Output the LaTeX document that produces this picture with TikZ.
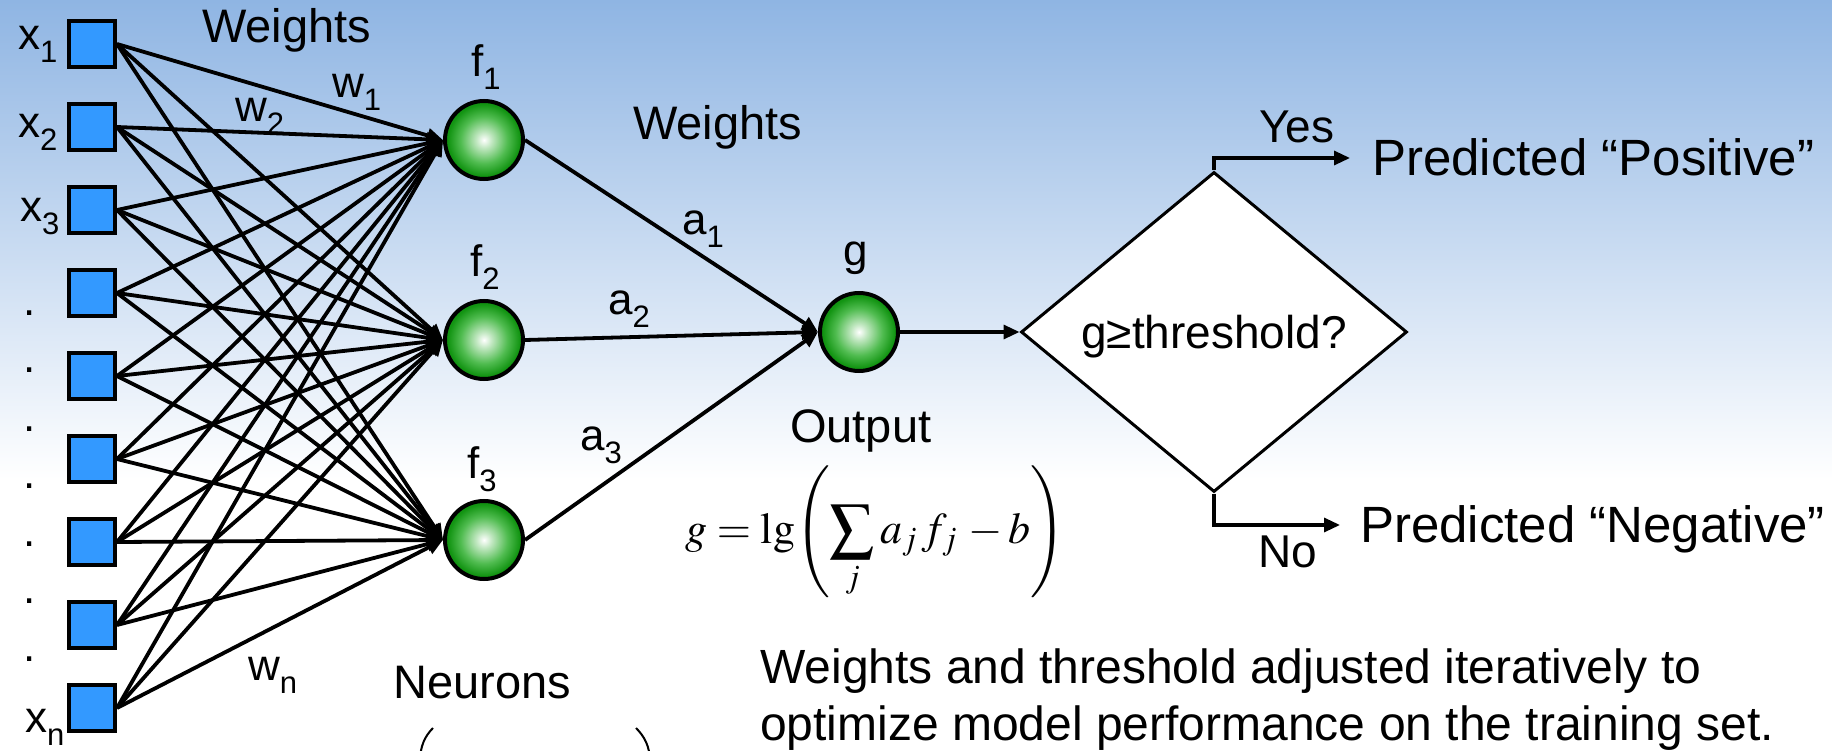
\documentclass[tikz,border=0pt]{standalone}
\usepackage{mathptmx}
\usepackage[no-math]{fontspec}
\setmainfont{Liberation Sans}
\usetikzlibrary{arrows.meta,shapes.geometric}
\definecolor{bgtop}{RGB}{143,181,227}
\definecolor{sqblue}{RGB}{51,153,255}
\definecolor{gA}{RGB}{80,188,80}
\definecolor{gB}{RGB}{18,148,18}
\pgfdeclareradialshading{greenball}{\pgfpoint{0bp}{0bp}}{color(0bp)=(white); color(5bp)=(white!65!gA); color(15bp)=(gA); color(23bp)=(gB); color(25bp)=(gB); color(50bp)=(gB)}
\newcommand{\sbs}[1]{\raisebox{-13pt}{\fontsize{31}{31}\selectfont #1}}
\begin{document}
\begin{tikzpicture}[x=1pt,y=-1pt,
  inbox/.style={draw=black, line width=4pt, fill=sqblue, minimum size=46pt, inner sep=0pt},
  neuron/.style={circle, draw=black, line width=4pt, shade, shading=greenball, minimum size=78pt, inner sep=0pt},
  lbl/.style={anchor=base west, inner sep=0pt, font=\fontsize{44}{44}\selectfont},
  bigtxt/.style={anchor=base west, inner sep=0pt, font=\fontsize{47}{47}\selectfont},
  predtxt/.style={anchor=base west, inner sep=0pt, font=\fontsize{51}{51}\selectfont},
  conn/.style={draw=black, line width=3.8pt, -{Triangle[length=16pt,width=14pt]}},
  arrtwo/.style={draw=black, line width=3.2pt, -{Triangle[length=16pt,width=14pt]}},
  decision/.style={diamond, draw=black, fill=white, line width=3pt, minimum width=386pt, minimum height=320pt, inner sep=0pt, font=\fontsize{46}{46}\selectfont, text depth=0pt}
]
\useasboundingbox (0,0) rectangle (1832,751);
\clip (0,0) rectangle (1832,751);
\fill[white] (0,0) rectangle (1832,751);
\shade[top color=bgtop, bottom color=white] (0,0) rectangle (1832,480);

% input squares
\foreach \i/\yy in {1/44,2/127,3/210,4/293,5/376,6/459,7/542,8/625,9/708}
  \node[inbox] (x\i) at (92,\yy) {};

% neurons
\node[neuron] (f1) at (484,140) {};
\node[neuron] (f2) at (484,340) {};
\node[neuron] (f3) at (484,540) {};
\node[neuron] (g) at (859,332) {};

% decision
\node[decision] (d) at (1214,332) {g≥threshold?};

% connectors input -> neurons
\foreach \i in {1,...,9}
  \foreach \j in {1,2,3}
    \draw[conn] (x\i.east) -- (f\j.west);

% neurons -> g
\foreach \j in {1,2,3}
  \draw[conn] (f\j.east) -- (g.west);

\draw[arrtwo] (g.east) -- (d.west);
\coordinate (yesend) at (1350,158);
\coordinate (noend) at (1340,525);
\draw[arrtwo] (d.north) |- (yesend);
\draw[arrtwo] (d.south) |- (noend);

% labels
\node[lbl] (lx1) at (18,50) {x\sbs{1}};
\node[lbl] (lx2) at (18,138) {x\sbs{2}};
\node[lbl] (lx3) at (20,222) {x\sbs{3}};
\node[lbl] (lxn) at (25,732) {x\sbs{n}};
\foreach \k/\yy in {1/316,2/373,3/431,4/488,5/546,6/603,7/661}
  \node[lbl] (dot\k) at (23,\yy) {.};

\node[lbl] (lw1) at (332,98) {w\sbs{1}};
\node[lbl] (lw2) at (235,122) {w\sbs{2}};
\node[lbl] (lwn) at (248,680) {w\sbs{n}};

\node[lbl] (lf1) at (471,77) {f\sbs{1}};
\node[lbl] (lf2) at (470,277) {f\sbs{2}};
\node[lbl] (lf3) at (467,478) {f\sbs{3}};
\node[lbl] (lg) at (843,266) {g};

\node[lbl] (la1) at (682,235) {a\sbs{1}};
\node[lbl] (la2) at (608,315) {a\sbs{2}};
\node[lbl] (la3) at (580,450) {a\sbs{3}};

\node[bigtxt] (wt1) at (202,43) {Weights};
\node[bigtxt] (wt2) at (633,140) {Weights};
\node[bigtxt] (outl) at (790,442) {Output};
\node[bigtxt] (neur) at (393,698) {Neurons};

\node[anchor=base west, inner sep=0pt, font=\fontsize{46}{46}\selectfont] (yes) at (1259,143) {Yes};
\node[anchor=base west, inner sep=0pt, font=\fontsize{46}{46}\selectfont] (no) at (1258,567) {No};
\node[predtxt] (pos) at (1372,176) {Predicted “Positive”};
\node[predtxt] (neg) at (1360,542) {Predicted “Negative”};

\node[anchor=base west, inner sep=0pt, font=\fontsize{48}{57}\selectfont] (note1) at (760,683) {Weights and threshold adjusted iteratively to};
\node[anchor=base west, inner sep=0pt, font=\fontsize{48}{57}\selectfont] (note2) at (760,740) {optimize model performance on the training set.};

% formula
\node[anchor=base west, inner sep=0pt, text height=70pt, font=\fontsize{44}{44}\selectfont] (formula) at (685,543) {$\displaystyle g=\mathrm{lg}\!\left(\sum_j a_j\, f_j\, - b\right)$};

% cut-off parentheses at bottom
\draw[line width=2pt] (433,728) .. controls (425,736) and (420,746) .. (420,762);
\draw[line width=2pt] (636,728) .. controls (644,736) and (650,746) .. (650,762);
\end{tikzpicture}
\end{document}
